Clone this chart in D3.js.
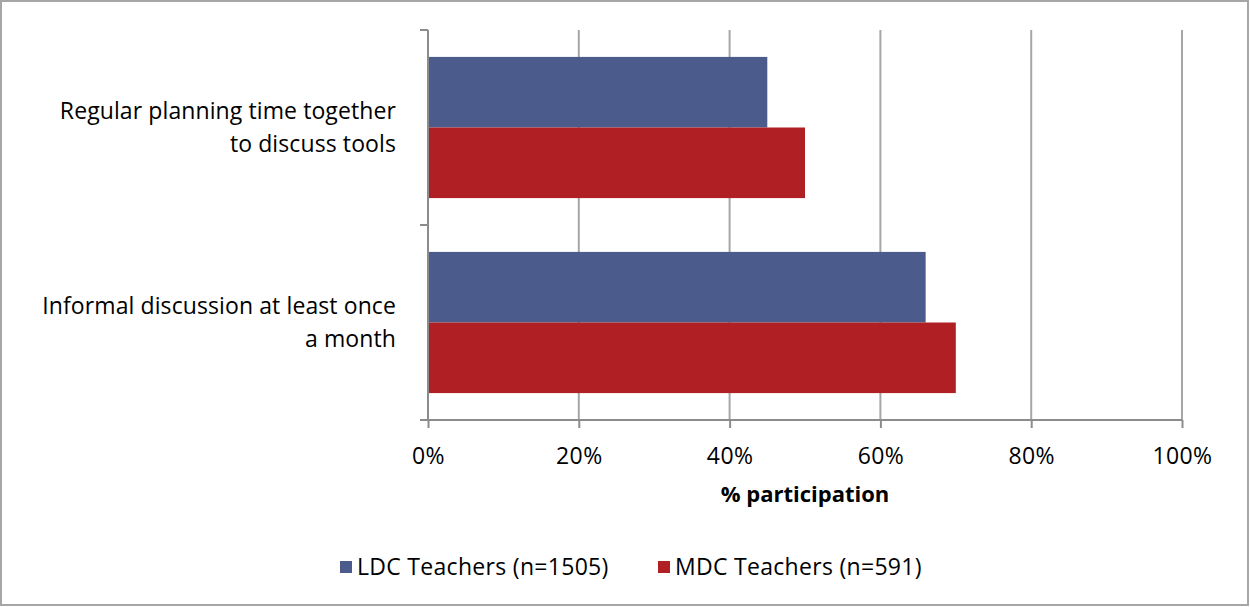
<!DOCTYPE html>
<html><head><meta charset="utf-8">
<script src="https://cdn.jsdelivr.net/npm/d3@7"></script>
<style>body{margin:0;background:#fff}svg{display:block;font-family:"Open Sans",sans-serif}</style>
</head><body><svg id="c" width="1250" height="607"></svg>
<script>
const categories = [["Regular planning time together","to discuss tools"],["Informal discussion at least once","a month"]];
const seriesNames = ["LDC Teachers (n=1505)","MDC Teachers (n=591)"];
const ldcValues = [45, 66];
const mdcValues = [50, 70];
const tickValues = [0,20,40,60,80,100];
const colors = ["#4a5b8c","#b01f24"];

const FS = 23;
const svg = d3.select("#c");
svg.append("rect").attr("x",1).attr("y",1).attr("width",1247).attr("height",604).attr("fill","#fff").attr("stroke","#a6a6a6").attr("stroke-width",2);

const L=428,R=1182,T=30,B=420;
const x = d3.scaleLinear().domain([0,100]).range([L,R]);
const y = d3.scaleBand().domain(categories.map((d,i)=>i)).range([T,B]);
const sub = d3.scaleBand().domain([0,1]).range([y.bandwidth()*0.138, y.bandwidth()*0.862]);

// gridlines
svg.append("g").selectAll("line").data(tickValues.slice(1)).join("line")
 .attr("x1",d=>x(d)).attr("x2",d=>x(d)).attr("y1",T).attr("y2",B)
 .attr("stroke","#a6a6a6").attr("stroke-width",2);

// bars
const data = categories.map((c,i)=>[ldcValues[i], mdcValues[i]]);
const g = svg.append("g");
data.forEach((vals,i)=>{
  g.selectAll(null).data(vals).join("rect")
   .attr("x",L).attr("y",(d,j)=>y(i)+sub(j)).attr("height",sub.bandwidth())
   .attr("width",d=>x(d)-L).attr("fill",(d,j)=>colors[j]);
});

// x axis
const xa = svg.append("g").attr("transform",`translate(0,${B})`)
 .call(d3.axisBottom(x).tickValues(tickValues).tickFormat(d=>d+"%").tickSize(8).tickSizeOuter(0));
xa.attr("font-family",null).attr("font-size",null);
xa.select(".domain").attr("stroke","#8c8c8c").attr("stroke-width",2).attr("d",`M${L-8},0H${R}`);
xa.selectAll(".tick line").attr("stroke","#8c8c8c").attr("stroke-width",2);
xa.selectAll(".tick text").attr("y",36).attr("dy","0.35em").attr("font-size",FS).attr("fill","#000").attr("letter-spacing",0.4);

// y axis
const ya = svg.append("g").attr("transform",`translate(${L},0)`);
ya.append("line").attr("x1",0).attr("x2",0).attr("y1",T).attr("y2",B).attr("stroke","#8c8c8c").attr("stroke-width",2);
ya.selectAll(".yt").data([T, T + y.step(), B]).join("line")
 .attr("x1",-8).attr("x2",0).attr("y1",d=>d).attr("y2",d=>d).attr("stroke","#8c8c8c").attr("stroke-width",2);

// category labels
categories.forEach((lines,i)=>{
  const cy = y(i)+y.bandwidth()/2;
  const t = svg.append("text").attr("text-anchor","end").attr("font-size",FS).attr("fill","#000").attr("letter-spacing",0.1);
  lines.forEach((ln,k)=>{
    t.append("tspan").attr("x",396).attr("y",cy + (k-0.5)*33).attr("dy","0.35em").text(ln);
  });
});

// axis title
svg.append("text").attr("x",(L+R)/2).attr("y",494).attr("dy","0.35em").attr("text-anchor","middle")
 .attr("font-size",22).attr("font-weight","bold").text("% participation");

// legend
const legX = [340, 658];
seriesNames.forEach((s,i)=>{
  svg.append("rect").attr("x",legX[i]).attr("y",561).attr("width",12).attr("height",12).attr("fill",colors[i]);
  svg.append("text").attr("x",legX[i]+17).attr("y",567).attr("dy","0.35em").attr("font-size",FS).attr("letter-spacing",0.3).text(s);
});
</script></body></html>
